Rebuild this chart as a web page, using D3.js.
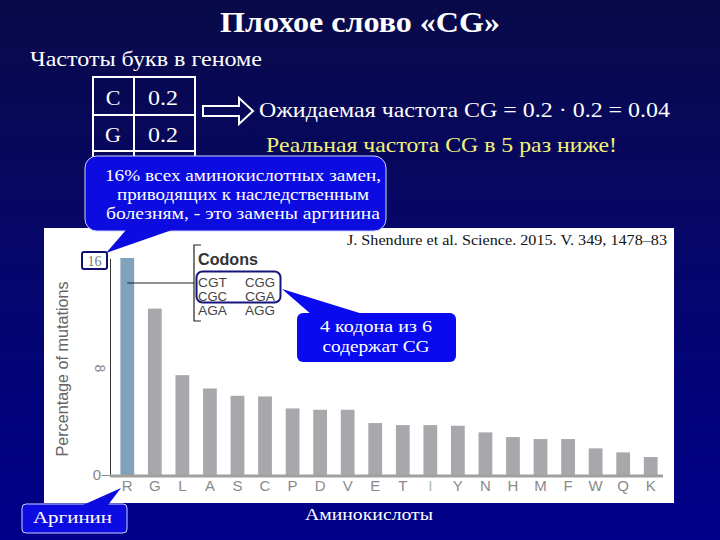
<!DOCTYPE html>
<html><head><meta charset="utf-8">
<script src="https://cdn.jsdelivr.net/npm/d3@7/dist/d3.min.js"></script>
<style>html,body{margin:0;padding:0;background:#000060;}svg{display:block;}</style>
</head><body>
<svg id="c" width="720" height="540"></svg>
<script>
const aminoAcids = ["R","G","L","A","S","C","P","D","V","E","T","I","Y","N","H","M","F","W","Q","K"];
const percentValues = [16.3,12.5,7.5,6.5,5.95,5.9,5.0,4.9,4.9,3.9,3.75,3.75,3.7,3.2,2.85,2.7,2.7,2.0,1.7,1.35];
const yTicks = [0,8,16];
const letterRows = ["C","G",""];
const letterFreqs = ["0.2","0.2",""];
const codonsCol1 = ["CGT","CGC","AGA"];
const codonsCol2 = ["CGG","CGA","AGG"];
const titleText = "Плохое слово «CG»";
const subtitleText = "Частоты букв в геноме";
const expectedText = "Ожидаемая частота CG = 0.2 · 0.2 = 0.04";
const realText = "Реальная частота CG в 5 раз ниже!";
const callout1Lines = ["16% всех аминокислотных замен,","приводящих к наследственным","болезням, - это замены аргинина"];
const callout2Lines = ["4 кодона из 6","содержат CG"];
const citation = "J. Shendure et al. Science. 2015. V. 349, 1478–83";

const svg = d3.select("#c");
const serif = "'Liberation Serif','Times New Roman',serif";
const sans = "'Liberation Sans',Arial,sans-serif";

function txt(g, s, x, y, size, len, opts={}) {
  const t = g.append("text").attr("x",x).attr("y",y).attr("font-family",opts.family||serif)
    .attr("font-size",size).attr("fill",opts.fill||"#fff").text(s);
  if (opts.anchor) t.attr("text-anchor",opts.anchor);
  if (opts.weight) t.attr("font-weight",opts.weight);
  if (len) t.attr("textLength",len).attr("lengthAdjust","spacingAndGlyphs");
  return t;
}

// background
const defs = svg.append("defs");
const grad = defs.append("linearGradient").attr("id","bg").attr("x1",0).attr("y1",0).attr("x2",0).attr("y2",1);
grad.append("stop").attr("offset","0%").attr("stop-color","#090a48");
grad.append("stop").attr("offset","50%").attr("stop-color","#05066c");
grad.append("stop").attr("offset","100%").attr("stop-color","#00008a");
svg.append("rect").attr("width",720).attr("height",540).attr("fill","url(#bg)");

// title
txt(svg, titleText, 360, 32, 30, 280, {anchor:"middle", weight:"bold"});
txt(svg, subtitleText, 30, 66, 21, 232);

// table
const tbl = svg.append("g");
const rowY = d3.scaleBand().domain(d3.range(letterRows.length)).range([77,187]);
tbl.append("path").attr("d","M93,200 V77 H195 V200 M134,77 V200 M93,115 H195 M93,151 H195")
  .attr("fill","none").attr("stroke","#fff").attr("stroke-width",2);
letterRows.forEach((l,i)=>{
  txt(tbl, l, 113, rowY(i)+28, 22, null, {anchor:"middle"});
  txt(tbl, letterFreqs[i], 163, rowY(i)+28, 22, letterFreqs[i]?30:null, {anchor:"middle"});
});

// arrow
svg.append("path").attr("d","M203,106 H239 V98 L253,111 L239,124 V116 H203 Z")
  .attr("fill","none").attr("stroke","#fff").attr("stroke-width",2);
txt(svg, expectedText, 259, 117, 22, 411);
txt(svg, realText, 266, 152, 22, 351, {fill:"#f2f27a"});

// white panel
svg.append("rect").attr("x",44).attr("y",228).attr("width",630).attr("height",275).attr("fill","#fff");
txt(svg, citation, 347, 245, 15, 320, {fill:"#111"});

// scales
const x = d3.scaleBand().domain(aminoAcids).range([113.5,664.5]).paddingInner(0.5).paddingOuter(0.25);
const y = d3.scaleLinear().domain([0,16]).range([475,262]);

// axis
const yAxis = d3.axisLeft(y).tickValues([yTicks[0]]).tickSize(9).tickSizeOuter(0).tickFormat("");
const ag = svg.append("g").attr("transform","translate(110.5,0)").call(yAxis);
ag.select(".domain").attr("stroke","#333").attr("d","M0,259V475");
ag.selectAll(".tick line").attr("stroke","#888");

// bars
svg.append("g").selectAll("rect").data(aminoAcids).join("rect")
  .attr("x",d=>x(d)).attr("width",x.bandwidth())
  .attr("y",(d,i)=>y(percentValues[i])).attr("height",(d,i)=>y(0)-y(percentValues[i]))
  .attr("fill",(d,i)=>i===0?"#7fa3bd":"#a7a8ab");
svg.append("line").attr("x1",110).attr("x2",663).attr("y1",y(0)+1).attr("y2",y(0)+1).attr("stroke","#a0a0a0").attr("stroke-width",3);

// x labels
svg.append("g").selectAll("text").data(aminoAcids).join("text")
  .attr("x",d=>x(d)+x.bandwidth()/2).attr("y",491).attr("text-anchor","middle")
  .attr("font-family",sans).attr("font-size",15).attr("fill",d=>d==="I"?"#a9bba9":"#8a8a8a").text(d=>d);

// y labels
txt(svg, yTicks[0], 97, y(yTicks[0])+5, 15, null, {anchor:"middle", family:sans, fill:"#888"});
svg.append("text").attr("transform",`translate(100,${y(yTicks[1])}) rotate(90)`).attr("text-anchor","middle").attr("dy","0.35em")
  .attr("font-family",sans).attr("font-size",14).attr("fill","#888").text(yTicks[1]);
svg.append("rect").attr("x",82).attr("y",252).attr("width",25).attr("height",17).attr("rx",2).attr("fill","#fff").attr("stroke","#101070").attr("stroke-width",2);
svg.append("text").attr("x",94.5).attr("y",261).attr("text-anchor","middle").attr("dy","0.35em").attr("font-family",serif).attr("font-size",14).attr("fill","#777").text(yTicks[2]);
svg.append("text").attr("transform","translate(68,369) rotate(-90)").attr("text-anchor","middle")
  .attr("font-family",sans).attr("font-size",16).attr("fill","#666")
  .attr("textLength",175).attr("lengthAdjust","spacingAndGlyphs").text("Percentage of mutations");

// codons bracket
const rCenter = x(aminoAcids[0])+x.bandwidth()/2;
svg.append("path").attr("d",`M${rCenter},283 H194 M201,245 H194 V321 H201`).attr("fill","none").attr("stroke","#222").attr("stroke-width",1.2);
txt(svg, "Codons", 198, 265, 16, 60, {family:sans, weight:"bold", fill:"#333"});
const codY = d3.scalePoint().domain(d3.range(codonsCol1.length)).range([287,315]);
codonsCol1.forEach((c,i)=>{
  txt(svg, c, 198, codY(i), 12, 29, {family:sans, fill:"#444"});
  txt(svg, codonsCol2[i], 245, codY(i), 12, 30, {family:sans, fill:"#444"});
});
svg.append("rect").attr("x",196.5).attr("y",271.5).attr("width",84).attr("height",31).attr("rx",6).attr("fill","none").attr("stroke","#14147a").attr("stroke-width",2);

// callout 1
const c1 = svg.append("g");
c1.append("rect").attr("x",85).attr("y",156).attr("width",301).attr("height",75).attr("rx",12).attr("fill","#0c0ce0").attr("stroke","#cfd2ff").attr("stroke-width",1);
c1.append("path").attr("d","M126,230 L106,253 L172,230 Z").attr("fill","#0c0ce0");
const c1w = [276,252,274];
callout1Lines.forEach((t,i)=>txt(c1, t, 243, 181+i*19, 17, c1w[i], {anchor:"middle"}));

// callout 2
const c2 = svg.append("g");
c2.append("path").attr("d","M282,289 L312,315 L366,315 Z").attr("fill","#0a0af0");
c2.append("rect").attr("x",297).attr("y",313).attr("width",159).attr("height",49).attr("rx",6).attr("fill","#0a0af0");
const c2w = [112,107];
callout2Lines.forEach((t,i)=>txt(c2, t, 376, 332+i*20, 17, c2w[i], {anchor:"middle"}));

// callout 3
const c3 = svg.append("g");
c3.append("rect").attr("x",22).attr("y",504).attr("width",105).attr("height",29).attr("rx",4).attr("fill","#0c0ce0").attr("stroke","#cfd2ff").attr("stroke-width",1);
c3.append("path").attr("d","M83,505 L121,488 L108,505 Z").attr("fill","#0c0ce0");
txt(c3, "Аргинин", 33, 523, 17.5, 79);

txt(svg, "Аминокислоты", 305, 520, 17.5, 128);
</script>
</body></html>
